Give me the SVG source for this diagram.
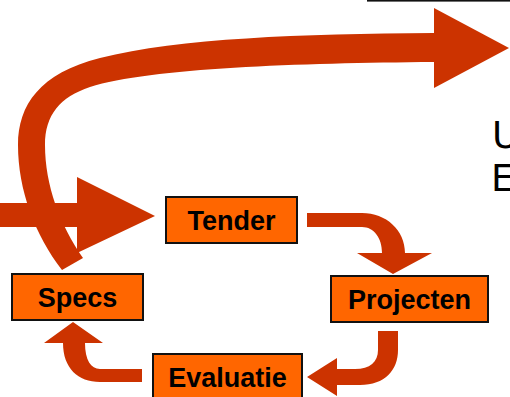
<svg xmlns="http://www.w3.org/2000/svg" width="510" height="397" viewBox="0 0 510 397">
<style>
.box{fill:#FF6600;stroke:#111;stroke-width:2}
.lbl{font-family:"Liberation Sans",Arial,sans-serif;font-weight:bold;font-size:27px;fill:#000;text-anchor:middle}
.arr{fill:#CC3300;stroke:none}
.side{font-family:"DejaVu Sans","Liberation Sans",sans-serif;font-size:37px;fill:#000}
</style>
<rect x="367" y="0" width="143" height="1.6" fill="#111"/>
<g id="connectors">
<path class="arr" d="M434,33 C300,34 180,38 100,58 C40,73 18,105 18,145 C18,190 35,235 62,270 L83,258 C60,225 45,185 45,145 C45,115 60,97 90,87 C150,68 300,63 434,62 L434,88 L509,48 L434,8 Z"/>
<path class="arr" d="M0,203 L77,203 L77,177 L155,216 L77,253 L77,227 L0,227 Z"/>
<path class="arr" d="M307,213 L362,213 C386,213 405,230 405,253 L432,253 L393,274 L357,253 L382,253 C382,238 374,227 362,227 L307,227 Z"/>
<path class="arr" d="M378,331 L398,331 L398,350 C398,370 385,385 360,385 L337,385 L337,396 L307,377 L337,358 L337,369 L355,369 C370,369 378,362 378,350 Z"/>
<path class="arr" d="M142,369 L100,369 C91,369 85,360 85,343 L103,343 L73,322 L44,343 L63,343 C63,368 78,382 100,382 L142,382 Z"/>
</g>
<g id="tender"><rect class="box" x="166" y="197" width="131" height="46"/><text class="lbl" x="231.5" y="230">Tender</text></g>
<g id="specs"><rect class="box" x="12" y="274" width="131" height="46"/><text class="lbl" x="77.5" y="307">Specs</text></g>
<g id="projecten"><rect class="box" x="331" y="276" width="157" height="46"/><text class="lbl" x="409.5" y="309">Projecten</text></g>
<g id="evaluatie"><rect class="box" x="153" y="354" width="149" height="46"/><text class="lbl" x="227.5" y="387">Evaluatie</text></g>
<text class="side" x="492" y="148">U</text>
<text class="side" x="491" y="191">E</text>
</svg>
